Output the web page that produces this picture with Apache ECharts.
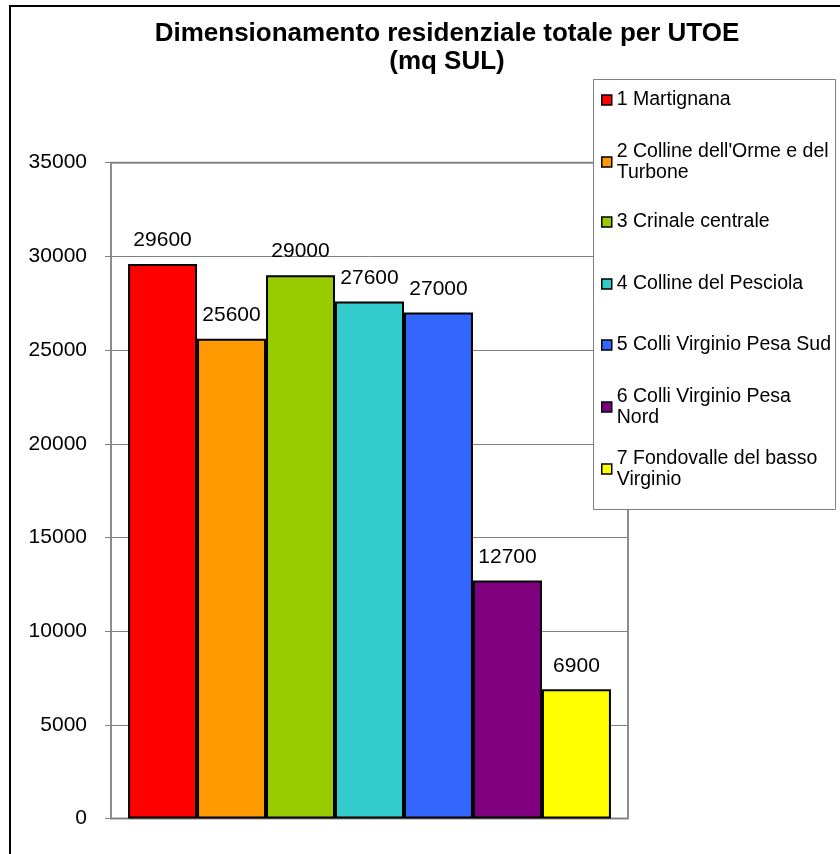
<!DOCTYPE html>
<html>
<head>
<meta charset="utf-8">
<script src="https://cdn.jsdelivr.net/npm/echarts@6/dist/echarts.min.js"></script>
<style>
html,body{margin:0;padding:0;background:#fff;}
#chart{width:840px;height:854px;}
</style>
</head>
<body>
<div id="chart"></div>
<script>
var titleLines = ['Dimensionamento residenziale totale per UTOE', '(mq SUL)'];
var seriesNames = ['1 Martignana', '2 Colline dell\'Orme e del Turbone', '3 Crinale centrale', '4 Colline del Pesciola', '5 Colli Virginio Pesa Sud', '6 Colli Virginio Pesa Nord', '7 Fondovalle del basso Virginio'];
var legendLabels = ['1 Martignana', '2 Colline dell\'Orme e del\nTurbone', '3 Crinale centrale', '4 Colline del Pesciola', '5 Colli Virginio Pesa Sud', '6 Colli Virginio Pesa\nNord', '7 Fondovalle del basso\nVirginio'];
var values = [29600, 25600, 29000, 27600, 27000, 12700, 6900];
var colors = ['#FF0000', '#FF9900', '#99CC00', '#33CCCC', '#3366FF', '#800080', '#FFFF00'];
var categories = [''];
var yMin = 0, yMax = 35000, yInterval = 5000;

var FONT = '"Liberation Sans", Arial, Helvetica, sans-serif';
var LH = 21.5;
var legendCenters = [100, 162, 222, 284, 345, 407, 469];

var chart = echarts.init(document.getElementById('chart'), null, {renderer: 'canvas'});

var series = seriesNames.map(function (n, i) {
  return {
    type: 'bar',
    name: n,
    data: [values[i]],
    barGap: '0%',
    barCategoryGap: '6.6%',
    itemStyle: {color: colors[i], borderColor: '#000', borderWidth: 2},
    label: {
      show: true, position: 'top', distance: 13,
      color: '#000', fontSize: 21, fontFamily: FONT
    },
    emphasis: {disabled: true},
    z: 2
  };
});

var legends = seriesNames.map(function (n, i) {
  var twoLine = legendLabels[i].indexOf('\n') >= 0;
  return {
    data: [n],
    left: 601,
    top: twoLine ? legendCenters[i] - 1.5 * LH : legendCenters[i] - LH / 2,
    orient: 'vertical',
    padding: 0,
    icon: 'rect',
    itemWidth: 10,
    itemHeight: 10,
    itemGap: 0,
    z: 10,
    selectedMode: false,
    itemStyle: {borderColor: '#000', borderWidth: 1.5},
    formatter: function () { return legendLabels[i]; },
    textStyle: {
      color: '#000', fontSize: 19.5, fontFamily: FONT, lineHeight: LH,
      padding: twoLine ? [LH, 0, 0, 0] : 0
    }
  };
});

var option = {
  backgroundColor: '#fff',
  animation: false,
  title: {
    text: titleLines.join('\n'),
    left: 447,
    top: 20,
    textAlign: 'center',
    padding: 0,
    textStyle: {color: '#000', fontSize: 26, fontWeight: 'bold', fontFamily: FONT, lineHeight: 28}
  },
  legend: legends,
  grid: {
    left: 111, top: 162.7, right: 212, bottom: 35.4,
    show: true, borderColor: '#8c8c8c', borderWidth: 2, backgroundColor: 'transparent'
  },
  xAxis: {
    type: 'category',
    data: categories,
    axisLine: {show: false},
    axisTick: {show: false},
    axisLabel: {show: false},
    splitLine: {show: false}
  },
  yAxis: {
    type: 'value',
    min: yMin, max: yMax, interval: yInterval,
    axisLine: {show: false},
    axisTick: {show: true, length: 6, lineStyle: {color: '#808080', width: 1}},
    axisLabel: {color: '#000', fontSize: 21, fontFamily: FONT, margin: 24,
      formatter: function (v) { return String(v); }},
    splitLine: {show: true, lineStyle: {color: '#808080', width: 1}}
  },
  graphic: [
    {
      type: 'rect', z: 5, silent: true,
      shape: {x: 593.5, y: 79.5, width: 242, height: 430},
      style: {fill: '#fff', stroke: '#808080', lineWidth: 1}
    },
    {
      type: 'rect', z: 20, silent: true,
      shape: {x: 10, y: 6, width: 900, height: 900},
      style: {fill: 'none', stroke: '#000', lineWidth: 2}
    }
  ],
  series: series
};
chart.setOption(option);
</script>
</body>
</html>
